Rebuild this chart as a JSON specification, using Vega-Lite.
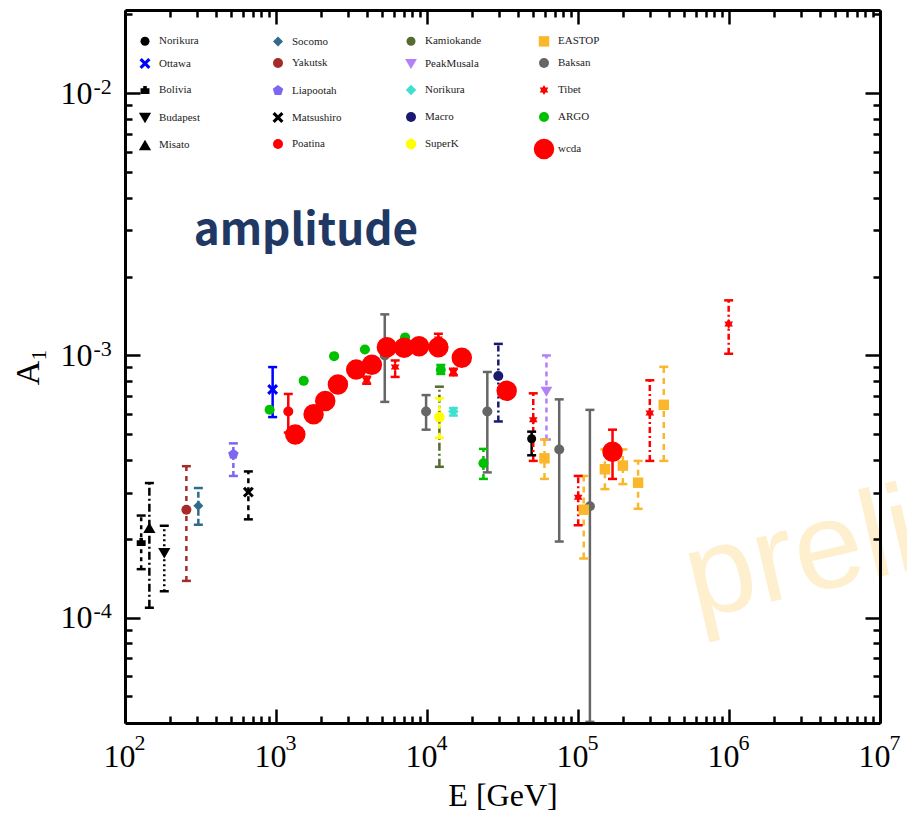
{
  "$schema": "https://vega.github.io/schema/vega-lite/v6.json",
  "width": 755,
  "height": 713,
  "autosize": {"type": "none"},
  "padding": {"left": 125, "top": 10, "right": 27, "bottom": 92},
  "background": "white",
  "config": {"view": {"stroke": null}},
  "datasets": {
    "pts": [
      {"s": "Bolivia", "E": 128, "A": 0.000195, "lo": 0.000153, "hi": 0.000245},
      {"s": "Misato", "E": 145, "A": 0.00022, "lo": 0.000109, "hi": 0.000326},
      {"s": "Budapest", "E": 182, "A": 0.000176, "lo": 0.000126, "hi": 0.000224},
      {"s": "Yakutsk", "E": 255, "A": 0.000258, "lo": 0.000138, "hi": 0.000378},
      {"s": "Socomo", "E": 306, "A": 0.000267, "lo": 0.000226, "hi": 0.000312},
      {"s": "Liapootah", "E": 522, "A": 0.00042, "lo": 0.000347, "hi": 0.000462},
      {"s": "Matsushiro", "E": 656, "A": 0.000301, "lo": 0.000237, "hi": 0.000361},
      {"s": "ARGO", "E": 907, "A": 0.000621, "lo": 0.000621, "hi": 0.000621},
      {"s": "ARGO", "E": 1525, "A": 0.0008, "lo": 0.0008, "hi": 0.0008},
      {"s": "ARGO", "E": 2426, "A": 0.000994, "lo": 0.000994, "hi": 0.000994},
      {"s": "ARGO", "E": 3878, "A": 0.001053, "lo": 0.001053, "hi": 0.001053},
      {"s": "ARGO", "E": 7164, "A": 0.001172, "lo": 0.001172, "hi": 0.001172},
      {"s": "ARGO", "E": 12340, "A": 0.000882, "lo": 0.00085, "hi": 0.00092},
      {"s": "ARGO", "E": 23640, "A": 0.000388, "lo": 0.000338, "hi": 0.00044},
      {"s": "Ottawa", "E": 950, "A": 0.000742, "lo": 0.000582, "hi": 0.000903},
      {"s": "Poatina", "E": 1206, "A": 0.000611, "lo": 0.000508, "hi": 0.000713},
      {"s": "Baksan", "E": 5252, "A": 0.001, "lo": 0.000665, "hi": 0.001435},
      {"s": "Baksan", "E": 9862, "A": 0.000611, "lo": 0.000521, "hi": 0.000706},
      {"s": "Baksan", "E": 25090, "A": 0.000611, "lo": 0.000358, "hi": 0.000865},
      {"s": "Baksan", "E": 75100, "A": 0.000438, "lo": 0.000195, "hi": 0.00068},
      {"s": "Baksan", "E": 119900, "A": 0.000266, "lo": 0.00004, "hi": 0.00062},
      {"s": "Kamiokande", "E": 12080, "A": 0.000578, "lo": 0.000376, "hi": 0.00076},
      {"s": "SuperK", "E": 12080, "A": 0.000582, "lo": 0.000485, "hi": 0.000686},
      {"s": "Norikura2", "E": 14950, "A": 0.000611, "lo": 0.00059, "hi": 0.00063},
      {"s": "Macro", "E": 29670, "A": 0.000835, "lo": 0.00056, "hi": 0.001107},
      {"s": "Norikura", "E": 49320, "A": 0.000481, "lo": 0.000416, "hi": 0.000512},
      {"s": "PeakMusala", "E": 61800, "A": 0.000727, "lo": 0.000478, "hi": 0.001},
      {"s": "EASTOP", "E": 59970, "A": 0.000405, "lo": 0.000338, "hi": 0.000478},
      {"s": "EASTOP", "E": 109100, "A": 0.000258, "lo": 0.000168, "hi": 0.000347},
      {"s": "EASTOP", "E": 150700, "A": 0.000368, "lo": 0.000309, "hi": 0.000438},
      {"s": "EASTOP", "E": 198200, "A": 0.00038, "lo": 0.000323, "hi": 0.000438},
      {"s": "EASTOP", "E": 250000, "A": 0.000327, "lo": 0.00026, "hi": 0.000396},
      {"s": "EASTOP", "E": 369800, "A": 0.000648, "lo": 0.000396, "hi": 0.000905},
      {"s": "Tibet", "E": 3986, "A": 0.000804, "lo": 0.00078, "hi": 0.00083},
      {"s": "Tibet", "E": 6152, "A": 0.000903, "lo": 0.000828, "hi": 0.000957},
      {"s": "Tibet", "E": 11890, "A": 0.001156, "lo": 0.00109, "hi": 0.00121},
      {"s": "Tibet", "E": 14950, "A": 0.000865, "lo": 0.00084, "hi": 0.00089},
      {"s": "Tibet", "E": 50540, "A": 0.000569, "lo": 0.000396, "hi": 0.000717},
      {"s": "Tibet", "E": 100300, "A": 0.000288, "lo": 0.000225, "hi": 0.000347},
      {"s": "Tibet", "E": 298900, "A": 0.000603, "lo": 0.000396, "hi": 0.000804},
      {"s": "Tibet", "E": 995000, "A": 0.001317, "lo": 0.001015, "hi": 0.001623},
      {"s": "wcda", "E": 1342, "A": 0.000499, "lo": 0.000499, "hi": 0.000499},
      {"s": "wcda", "E": 1774, "A": 0.000597, "lo": 0.000597, "hi": 0.000597},
      {"s": "wcda", "E": 2119, "A": 0.00067, "lo": 0.00067, "hi": 0.00067},
      {"s": "wcda", "E": 2571, "A": 0.000775, "lo": 0.000775, "hi": 0.000775},
      {"s": "wcda", "E": 3398, "A": 0.000883, "lo": 0.000883, "hi": 0.000883},
      {"s": "wcda", "E": 4314, "A": 0.000922, "lo": 0.000922, "hi": 0.000922},
      {"s": "wcda", "E": 5423, "A": 0.001075, "lo": 0.001075, "hi": 0.001075},
      {"s": "wcda", "E": 7056, "A": 0.001069, "lo": 0.001069, "hi": 0.001069},
      {"s": "wcda", "E": 8867, "A": 0.001084, "lo": 0.001084, "hi": 0.001084},
      {"s": "wcda", "E": 11897, "A": 0.001075, "lo": 0.001075, "hi": 0.001075},
      {"s": "wcda", "E": 16993, "A": 0.00098, "lo": 0.00098, "hi": 0.00098},
      {"s": "wcda", "E": 33710, "A": 0.000733, "lo": 0.000733, "hi": 0.000733},
      {"s": "wcda", "E": 169300, "A": 0.000429, "lo": 0.000338, "hi": 0.000521}
    ]
  },
  "data": {"name": "pts"},
  "resolve": {"axis": {"x": "independent", "y": "independent"}},
  "layer": [
    {
      "mark": {"type": "point", "opacity": 0},
      "encoding": {
        "x": {"field": "E", "type": "quantitative",
          "scale": {"type": "log", "domain": [100, 10000000], "nice": false},
          "axis": {"orient": "bottom", "grid": false, "zindex": 1,
            "values": [100,200,300,400,500,600,700,800,900,1000,2000,3000,4000,5000,6000,7000,8000,9000,10000,20000,30000,40000,50000,60000,70000,80000,90000,100000,200000,300000,400000,500000,600000,700000,800000,900000,1000000,2000000,3000000,4000000,5000000,6000000,7000000,8000000,9000000,10000000],
            "labelExpr": "abs(log(datum.value)/LN10-round(log(datum.value)/LN10))<0.001 ? '10' : ''",
            "tickSize": {"condition": {"test": "abs(log(datum.value)/LN10-round(log(datum.value)/LN10))<0.001", "value": -14}, "value": -7},
            "tickWidth": 2.5, "tickColor": "black", "domainColor": "black", "domainWidth": 3,
            "labelFont": "Liberation Serif", "labelFontSize": 32, "labelColor": "black",
            "labelPadding": 32, "labelOffset": -6, "labelOverlap": false, "labelFlush": false, "labelBound": false,
            "title": "E [GeV]", "titleFont": "Liberation Serif", "titleFontSize": 32, "titleFontWeight": "normal", "titleColor": "black", "titlePadding": 1}},
        "y": {"field": "A", "type": "quantitative",
          "scale": {"type": "log", "domain": [0.0000396, 0.0208], "nice": false},
          "axis": {"orient": "left", "grid": false, "zindex": 1,
            "values": [0.00005,0.00006,0.00007,0.00008,0.00009,0.0001,0.0002,0.0003,0.0004,0.0005,0.0006,0.0007,0.0008,0.0009,0.001,0.002,0.003,0.004,0.005,0.006,0.007,0.008,0.009,0.01,0.02],
            "labelExpr": "abs(log(datum.value)/LN10-round(log(datum.value)/LN10))<0.001 ? '10' : ''",
            "tickSize": {"condition": {"test": "abs(log(datum.value)/LN10-round(log(datum.value)/LN10))<0.001", "value": -15}, "value": -7},
            "tickWidth": 2.5, "tickColor": "black", "domainColor": "black", "domainWidth": 3,
            "labelFont": "Liberation Serif", "labelFontSize": 32, "labelColor": "black",
            "labelPadding": 48, "labelOverlap": false, "labelFlush": false, "labelBound": false,
            "title": "A₁", "titleFont": "Liberation Serif", "titleFontSize": 34, "titleFontWeight": "normal", "titleColor": "black", "titlePadding": 15}}
      }
    },
    {
      "mark": {"type": "point", "opacity": 0},
      "encoding": {
        "x": {"field": "E", "type": "quantitative",
          "scale": {"type": "log", "domain": [100, 10000000], "nice": false},
          "axis": {"orient": "bottom", "grid": false, "zindex": 1, "title": null, "domain": false,
            "values": [100,200,300,400,500,600,700,800,900,1000,2000,3000,4000,5000,6000,7000,8000,9000,10000,20000,30000,40000,50000,60000,70000,80000,90000,100000,200000,300000,400000,500000,600000,700000,800000,900000,1000000,2000000,3000000,4000000,5000000,6000000,7000000,8000000,9000000,10000000],
            "labelExpr": "abs(log(datum.value)/LN10-round(log(datum.value)/LN10))<0.001 ? '' + round(log(datum.value)/LN10) : ''",
            "tickSize": {"condition": {"test": "abs(log(datum.value)/LN10-round(log(datum.value)/LN10))<0.001", "value": -14}, "value": -7},
            "tickWidth": 2.5, "tickOpacity": 0,
            "labelFont": "Liberation Serif", "labelFontSize": 22, "labelColor": "black", "labelAlign": "left",
            "labelPadding": 23, "labelOffset": 9, "labelOverlap": false, "labelFlush": false, "labelBound": false}},
        "y": {"field": "A", "type": "quantitative",
          "scale": {"type": "log", "domain": [0.0000396, 0.0208], "nice": false},
          "axis": {"orient": "left", "grid": false, "zindex": 1, "title": null, "domain": false,
            "values": [0.00005,0.00006,0.00007,0.00008,0.00009,0.0001,0.0002,0.0003,0.0004,0.0005,0.0006,0.0007,0.0008,0.0009,0.001,0.002,0.003,0.004,0.005,0.006,0.007,0.008,0.009,0.01,0.02],
            "labelExpr": "abs(log(datum.value)/LN10-round(log(datum.value)/LN10))<0.001 ? '' + round(log(datum.value)/LN10) : ''",
            "tickSize": {"condition": {"test": "abs(log(datum.value)/LN10-round(log(datum.value)/LN10))<0.001", "value": -15}, "value": -7},
            "tickWidth": 2.5, "tickOpacity": 0,
            "labelFont": "Liberation Serif", "labelFontSize": 22, "labelColor": "black", "labelAlign": "left",
            "labelPadding": 47, "labelOffset": -7, "labelOverlap": false, "labelFlush": false, "labelBound": false}}
      }
    },
    {
      "mark": {"type": "point", "opacity": 0},
      "encoding": {
        "x": {"field": "E", "type": "quantitative",
          "scale": {"type": "log", "domain": [100, 10000000], "nice": false},
          "axis": {"orient": "top", "grid": false, "zindex": 1, "labels": false, "title": null,
            "values": [100,200,300,400,500,600,700,800,900,1000,2000,3000,4000,5000,6000,7000,8000,9000,10000,20000,30000,40000,50000,60000,70000,80000,90000,100000,200000,300000,400000,500000,600000,700000,800000,900000,1000000,2000000,3000000,4000000,5000000,6000000,7000000,8000000,9000000,10000000],
            "tickSize": {"condition": {"test": "abs(log(datum.value)/LN10-round(log(datum.value)/LN10))<0.001", "value": -14}, "value": -7},
            "tickWidth": 2.5, "tickColor": "black", "domainColor": "black", "domainWidth": 3}},
        "y": {"field": "A", "type": "quantitative",
          "scale": {"type": "log", "domain": [0.0000396, 0.0208], "nice": false},
          "axis": {"orient": "right", "grid": false, "zindex": 1, "labels": false, "title": null,
            "values": [0.00005,0.00006,0.00007,0.00008,0.00009,0.0001,0.0002,0.0003,0.0004,0.0005,0.0006,0.0007,0.0008,0.0009,0.001,0.002,0.003,0.004,0.005,0.006,0.007,0.008,0.009,0.01,0.02],
            "tickSize": {"condition": {"test": "abs(log(datum.value)/LN10-round(log(datum.value)/LN10))<0.001", "value": -15}, "value": -7},
            "tickWidth": 2.5, "tickColor": "black", "domainColor": "black", "domainWidth": 3}}
      }
    },
    {
      "data": {"values": [{}]},
      "mark": {"type": "text", "text": "preli", "font": "Liberation Sans", "fontSize": 124, "color": "#fef0cf", "align": "left", "baseline": "alphabetic", "angle": -13},
      "encoding": {
        "x": {"datum": 600000, "type": "quantitative", "scale": {"type": "log", "domain": [100, 10000000], "nice": false}, "axis": null},
        "y": {"datum": 0.0000985, "type": "quantitative", "scale": {"type": "log", "domain": [0.0000396, 0.0208], "nice": false}, "axis": null}
      }
    },
    {
      "mark": {"type": "rule", "strokeWidth": 2.5},
      "encoding": {
        "x": {"field": "E", "type": "quantitative", "scale": {"type": "log", "domain": [100, 10000000], "nice": false}, "axis": null},
        "y": {"field": "lo", "type": "quantitative", "scale": {"type": "log", "domain": [0.0000396, 0.0208], "nice": false}, "axis": null},
        "y2": {"field": "hi"},
        "stroke": {"field": "s", "type": "nominal", "legend": null,
          "scale": {"domain": ["wcda","ARGO","Tibet","Baksan","EASTOP","SuperK","Macro","Norikura2","PeakMusala","Kamiokande","Poatina","Matsushiro","Liapootah","Yakutsk","Socomo","Misato","Budapest","Bolivia","Ottawa","Norikura"],
            "range": ["#ff0000","#00c000","#ff0000","#666666","#fbb72c","#ffff00","#191970","#40e0d0","#b57ff5","#556b2f","#ff0000","#000000","#7b68ee","#a52a2a","#2e6b8c","#000000","#000000","#000000","#0000ff","#000000"]}},
        "strokeDash": {"field": "s", "type": "nominal", "legend": null,
          "scale": {"domain": ["wcda","ARGO","Tibet","Baksan","EASTOP","SuperK","Macro","Norikura2","PeakMusala","Kamiokande","Poatina","Matsushiro","Liapootah","Yakutsk","Socomo","Misato","Budapest","Bolivia","Ottawa","Norikura"],
            "range": [[1,0],[5,4],[6,3,2,3],[1,0],[6,5],[5,4],[6,3,2,3],[1,0],[5,4],[8,3,2,3],[1,0],[5,4],[5,3],[5,5],[6,3],[8,3,2,3],[2,3],[4,4],[1,0],[1,0]]}}
      }
    },
    {
      "mark": {"type": "point", "shape": "stroke", "size": 81, "strokeWidth": 2.5, "filled": false, "opacity": 1},
      "encoding": {
        "x": {"field": "E", "type": "quantitative", "scale": {"type": "log", "domain": [100, 10000000], "nice": false}, "axis": null},
        "y": {"field": "lo", "type": "quantitative", "scale": {"type": "log", "domain": [0.0000396, 0.0208], "nice": false}, "axis": null},
        "stroke": {"field": "s", "type": "nominal", "legend": null}
      }
    },
    {
      "mark": {"type": "point", "shape": "stroke", "size": 81, "strokeWidth": 2.5, "filled": false, "opacity": 1},
      "encoding": {
        "x": {"field": "E", "type": "quantitative", "scale": {"type": "log", "domain": [100, 10000000], "nice": false}, "axis": null},
        "y": {"field": "hi", "type": "quantitative", "scale": {"type": "log", "domain": [0.0000396, 0.0208], "nice": false}, "axis": null},
        "stroke": {"field": "s", "type": "nominal", "legend": null}
      }
    },
    {
      "mark": {"type": "point", "filled": true, "opacity": 1, "strokeWidth": 0},
      "encoding": {
        "x": {"field": "E", "type": "quantitative", "scale": {"type": "log", "domain": [100, 10000000], "nice": false}, "axis": null},
        "y": {"field": "A", "type": "quantitative", "scale": {"type": "log", "domain": [0.0000396, 0.0208], "nice": false}, "axis": null},
        "color": {"field": "s", "type": "nominal",
          "scale": {"domain": ["Norikura","Ottawa","Bolivia","Budapest","Misato","Socomo","Yakutsk","Liapootah","Matsushiro","Poatina","Kamiokande","PeakMusala","Norikura2","Macro","SuperK","EASTOP","Baksan","Tibet","ARGO","wcda"],
            "range": ["#000000","#0000ff","#000000","#000000","#000000","#2e6b8c","#a52a2a","#7b68ee","#000000","#ff0000","#556b2f","#b57ff5","#40e0d0","#191970","#ffff00","#fbb72c","#666666","#ff0000","#00c000","#ff0000"]},
          "legend": {"orient": "none", "legendX": 9, "legendY": 20, "columns": 4, "columnPadding": 51, "rowPadding": 4, "gridAlign": "all", "title": null, "labelOffset": 3, "labelFont": "Liberation Serif", "labelFontSize": 11, "labelColor": "#222222", "labelExpr": "datum.label == 'Norikura2' ? 'Norikura' : datum.label"}},
        "shape": {"field": "s", "type": "nominal",
          "scale": {"domain": ["Norikura","Ottawa","Bolivia","Budapest","Misato","Socomo","Yakutsk","Liapootah","Matsushiro","Poatina","Kamiokande","PeakMusala","Norikura2","Macro","SuperK","EASTOP","Baksan","Tibet","ARGO","wcda"],
            "range": ["circle","M-1,-0.6L-0.6,-1L0,-0.4L0.6,-1L1,-0.6L0.4,0L1,0.6L0.6,1L0,0.4L-0.6,1L-1,0.6L-0.4,0Z","M-1,1L-1,-0.3L-0.4,-0.3L-0.4,-0.8L0.4,-0.8L0.4,-0.3L1,-0.3L1,1Z","triangle-down","triangle-up","diamond","circle","M0,-1L0.951,-0.309L0.588,0.809L-0.588,0.809L-0.951,-0.309Z","M-1,-0.6L-0.6,-1L0,-0.4L0.6,-1L1,-0.6L0.4,0L1,0.6L0.6,1L0,0.4L-0.6,1L-1,0.6L-0.4,0Z","circle","circle","triangle-down","diamond","circle","circle","square","circle","M0,-1L0.29,-0.5L0.87,-0.5L0.58,0L0.87,0.5L0.29,0.5L0,1L-0.29,0.5L-0.87,0.5L-0.58,0L-0.87,-0.5L-0.29,-0.5Z","circle","circle"]}},
        "size": {"field": "s", "type": "nominal",
          "scale": {"type": "ordinal", "domain": ["Norikura","Ottawa","Bolivia","Budapest","Misato","Socomo","Yakutsk","Liapootah","Matsushiro","Poatina","Kamiokande","PeakMusala","Norikura2","Macro","SuperK","EASTOP","Baksan","Tibet","ARGO","wcda"],
            "range": [81,120,80,150,150,100,100,120,120,100,81,140,110,100,110,110,100,100,100,420]}}
      }
    },
    {
      "data": {"values": [{}]},
      "mark": {"type": "text", "text": "amplitude", "font": "Noto Sans CJK SC", "fontSize": 44, "fontWeight": "bold", "color": "#203864", "align": "center", "baseline": "alphabetic"},
      "encoding": {
        "x": {"datum": 1577, "type": "quantitative", "scale": {"type": "log", "domain": [100, 10000000], "nice": false}, "axis": null},
        "y": {"datum": 0.002641, "type": "quantitative", "scale": {"type": "log", "domain": [0.0000396, 0.0208], "nice": false}, "axis": null}
      }
    }
  ]
}
